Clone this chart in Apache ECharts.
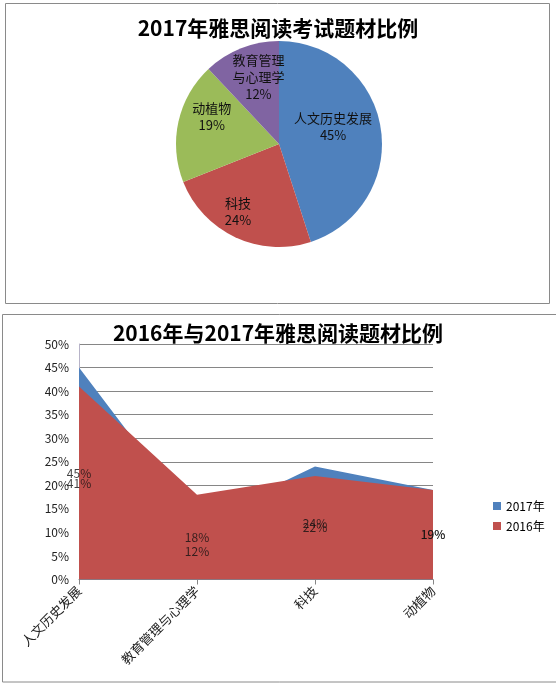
<!DOCTYPE html>
<html>
<head>
<meta charset="utf-8">
<script src="https://cdn.jsdelivr.net/npm/echarts@6/dist/echarts.min.js"></script>
<style>
html,body{margin:0;padding:0;background:#fff;}
#c{width:556px;height:685px;}
</style>
</head>
<body>
<div id="c"></div>
<script>
// ---- data ----
var pieTitle = '2017年雅思阅读考试题材比例';
var pieNames = ['人文历史发展', '科技', '动植物', '教育管理与心理学'];
var pieValues = [45, 24, 19, 12];

var areaTitle = '2016年与2017年雅思阅读题材比例';
var categories = ['人文历史发展', '教育管理与心理学', '科技', '动植物'];
var values2017 = [45, 12, 24, 19];
var values2016 = [41, 18, 22, 19];
var yTicks = [0, 5, 10, 15, 20, 25, 30, 35, 40, 45, 50];

// ---- styles / layout ----
var FONT = '"Noto Sans CJK SC", "Noto Sans", sans-serif';
var pieColors = ['#4F81BD', '#C0504D', '#9BBB59', '#8064A2'];
var pieLabelShift = [[-20, -6], [-9, 0], [6, -11], [7, 3]];
var C2017 = '#4F81BD', C2016 = '#C0504D';

var chart = echarts.init(document.getElementById('c'), null, {renderer: 'canvas'});

function pieLabel(p) {
  var n = p.name;
  if (n.length > 6) n = n.slice(0, 4) + '\n' + n.slice(4);
  return n + '\n' + p.value + '%';
}

var pieData = pieNames.map(function (n, i) {
  return {name: n, value: pieValues[i], itemStyle: {color: pieColors[i]}};
});
var pieLabelData = pieNames.map(function (n, i) {
  return {name: n, value: pieValues[i], label: {offset: pieLabelShift[i]}};
});

function halfLabels(vals) {
  return vals.map(function (v, i) { return [i, v / 2, v]; });
}

var option = {
  backgroundColor: '#fff',
  animation: false,
  textStyle: {fontFamily: FONT},
  graphic: [
    {type: 'rect', shape: {x: 5.5, y: 3.5, width: 544, height: 300},
     style: {fill: 'none', stroke: '#8a8a8a', lineWidth: 1}, z: 0},
    {type: 'rect', shape: {x: 2.5, y: 314.5, width: 620, height: 367.5},
     style: {fill: 'none', stroke: '#8a8a8a', lineWidth: 1}, z: 0}
  ],
  title: [
    {text: pieTitle, left: 'center', top: 11,
     textStyle: {fontFamily: FONT, fontSize: 21, fontWeight: 'bold', color: '#000', lineHeight: 24}},
    {text: areaTitle, left: 'center', top: 316,
     textStyle: {fontFamily: FONT, fontSize: 21, fontWeight: 'bold', color: '#000', lineHeight: 24}}
  ],
  legend: {
    data: ['2017年', '2016年'],
    orient: 'vertical',
    left: 488, top: 495,
    itemWidth: 8, itemHeight: 8, itemGap: 8,
    icon: 'rect',
    textStyle: {fontFamily: FONT, fontSize: 12, color: '#000'}
  },
  grid: {left: 79, right: 123, top: 344, bottom: 685 - 579.5, containLabel: false},
  xAxis: {
    type: 'category',
    data: categories,
    boundaryGap: false,
    axisLine: {lineStyle: {color: '#868686'}},
    axisTick: {show: true, length: 5, lineStyle: {color: '#868686'}},
    axisLabel: {rotate: 45, margin: 9, fontFamily: FONT, fontSize: 13, color: '#222', interval: 0}
  },
  yAxis: {
    type: 'value',
    min: yTicks[0], max: yTicks[yTicks.length - 1], interval: yTicks[1] - yTicks[0],
    axisLine: {show: true, lineStyle: {color: '#b7b3c8'}},
    axisTick: {show: false},
    splitLine: {lineStyle: {color: '#868686', width: 1}},
    axisLabel: {formatter: '{value}%', fontFamily: FONT, fontSize: 12, color: '#222', margin: 10}
  },
  series: [
    {
      type: 'pie', name: 'pie', center: [279, 144], radius: [0, 103],
      startAngle: 90, clockwise: true, silent: true,
      label: {show: false}, labelLine: {show: false},
      itemStyle: {borderWidth: 0},
      data: pieData
    },
    {
      type: 'pie', name: 'pieLabels', center: [279, 144], radius: [0, 144],
      startAngle: 90, clockwise: true, silent: true, z: 5,
      itemStyle: {color: 'rgba(0,0,0,0)', borderWidth: 0},
      label: {show: true, position: 'inside', formatter: pieLabel,
              fontFamily: FONT, fontSize: 13, lineHeight: 17, color: '#111'},
      labelLine: {show: false},
      emphasis: {disabled: true},
      data: pieLabelData
    },
    {
      type: 'line', name: '2017年', data: values2017,
      symbol: 'none', lineStyle: {width: 0}, itemStyle: {color: C2017},
      areaStyle: {color: C2017, opacity: 1}, z: 2
    },
    {
      type: 'line', name: '2016年', data: values2016,
      symbol: 'none', lineStyle: {width: 0}, itemStyle: {color: C2016},
      areaStyle: {color: C2016, opacity: 1}, z: 3
    },
    {
      type: 'scatter', name: 'l2017', data: halfLabels(values2017), symbolSize: 0, z: 6, silent: true,
      label: {show: true, position: 'inside', formatter: function (p) { return p.value[2] + '%'; },
              fontFamily: FONT, fontSize: 12, color: '#111'}
    },
    {
      type: 'scatter', name: 'l2016', data: halfLabels(values2016), symbolSize: 0, z: 6, silent: true,
      label: {show: true, position: 'inside', formatter: function (p) { return p.value[2] + '%'; },
              fontFamily: FONT, fontSize: 12, color: '#111'}
    }
  ]
};
chart.setOption(option);
</script>
</body>
</html>
